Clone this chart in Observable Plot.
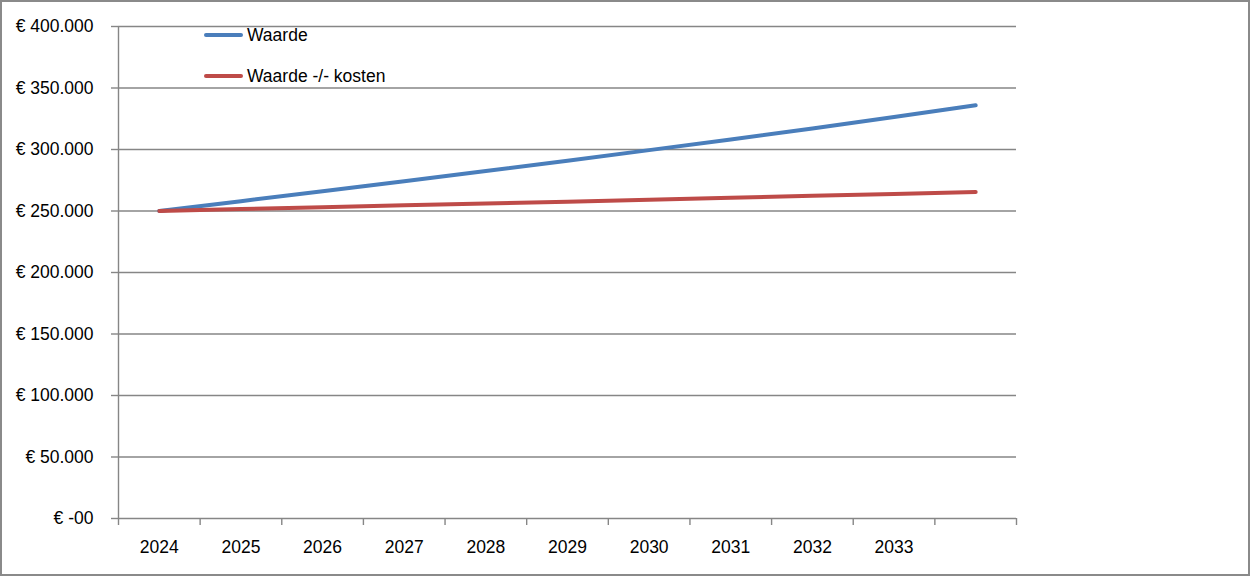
<!DOCTYPE html>
<html>
<head>
<meta charset="utf-8">
<script src="https://cdn.jsdelivr.net/npm/d3@7"></script>
<script src="https://cdn.jsdelivr.net/npm/@observablehq/plot@0.6"></script>
<style>
  html, body { margin: 0; padding: 0; background: #fff; }
  #wrap { position: relative; width: 1250px; height: 576px; overflow: hidden; }
  #border { position: absolute; left: 0; top: 0; width: 1246px; height: 572px; border: 2px solid #8a8a8a; pointer-events: none; }
  #legend { position: absolute; left: 204px; top: 23px; font-family: "Liberation Sans", sans-serif; font-size: 17.5px; color: #000; }
  .item { display: flex; align-items: center; height: 24px; margin-bottom: 17px; }
  .sw { width: 39px; height: 4px; border-radius: 2px; margin-right: 4px; }
</style>
</head>
<body>
<div id="wrap">
  <div id="chart"></div>
  <div id="legend"></div>
  <div id="border"></div>
</div>
<script>
const years = [2024, 2025, 2026, 2027, 2028, 2029, 2030, 2031, 2032, 2033, 2034];
const yearLabels = ["2024", "2025", "2026", "2027", "2028", "2029", "2030", "2031", "2032", "2033"];
const waarde = [250000, 258000, 266000, 274200, 282500, 290900, 299500, 308200, 317000, 326400, 336000];
const waardeMinKosten = [250000, 251600, 253100, 254600, 256100, 257600, 259100, 260700, 262300, 263900, 265500];
const seriesNames = ["Waarde", "Waarde -/- kosten"];
const seriesColors = ["#4A7EBB", "#BE4B48"];
const yTicks = [0, 50000, 100000, 150000, 200000, 250000, 300000, 350000, 400000];

const fmt = v => v === 0 ? "€ -00" : "€ " + d3.format(",")(v).replace(/,/g, ".");
const boundaries = [years[0] - 0.5, ...years.map(y => y + 0.5)];

const rows1 = years.map((y, i) => ({year: y, value: waarde[i]}));
const rows2 = years.map((y, i) => ({year: y, value: waardeMinKosten[i]}));
const axisColor = "#868686";

const chart = Plot.plot({
  width: 1250,
  height: 576,
  marginLeft: 118,
  marginRight: 234,
  marginTop: 26,
  marginBottom: 58,
  style: {fontFamily: '"Liberation Sans", sans-serif', fontSize: "17.5px", color: "#000", background: "transparent"},
  x: {domain: [boundaries[0], boundaries[boundaries.length - 1]]},
  y: {domain: [0, 400000]},
  marks: [
    Plot.gridY(yTicks.filter(d => d > 0), {stroke: axisColor, strokeOpacity: 1, strokeWidth: 1.4}),
    Plot.ruleY([0], {stroke: axisColor, strokeWidth: 1.4}),
    Plot.ruleX([boundaries[0]], {stroke: axisColor, strokeWidth: 1.4}),
    Plot.axisY({ticks: yTicks, tickSize: 7, tickPadding: 18, tickFormat: fmt, stroke: axisColor, strokeWidth: 1.4, label: null, fill: "#000"}),
    Plot.axisX({ticks: boundaries, tickSize: 7, tickFormat: () => "", stroke: axisColor, strokeWidth: 1.4, label: null}),
    Plot.axisX({ticks: years.slice(0, yearLabels.length), tickSize: 0, tickPadding: 22, tickFormat: (d, i) => yearLabels[i], label: null, fill: "#000"}),
    Plot.line(rows1, {x: "year", y: "value", stroke: seriesColors[0], strokeWidth: 4, strokeLinecap: "round"}),
    Plot.line(rows2, {x: "year", y: "value", stroke: seriesColors[1], strokeWidth: 4, strokeLinecap: "round"})
  ]
});
document.getElementById("chart").appendChild(chart);

const legend = document.getElementById("legend");
seriesNames.forEach((name, i) => {
  const item = document.createElement("div");
  item.className = "item";
  const sw = document.createElement("div");
  sw.className = "sw";
  sw.style.background = seriesColors[i];
  const label = document.createElement("span");
  label.textContent = name;
  item.appendChild(sw);
  item.appendChild(label);
  legend.appendChild(item);
});
</script>
</body>
</html>
